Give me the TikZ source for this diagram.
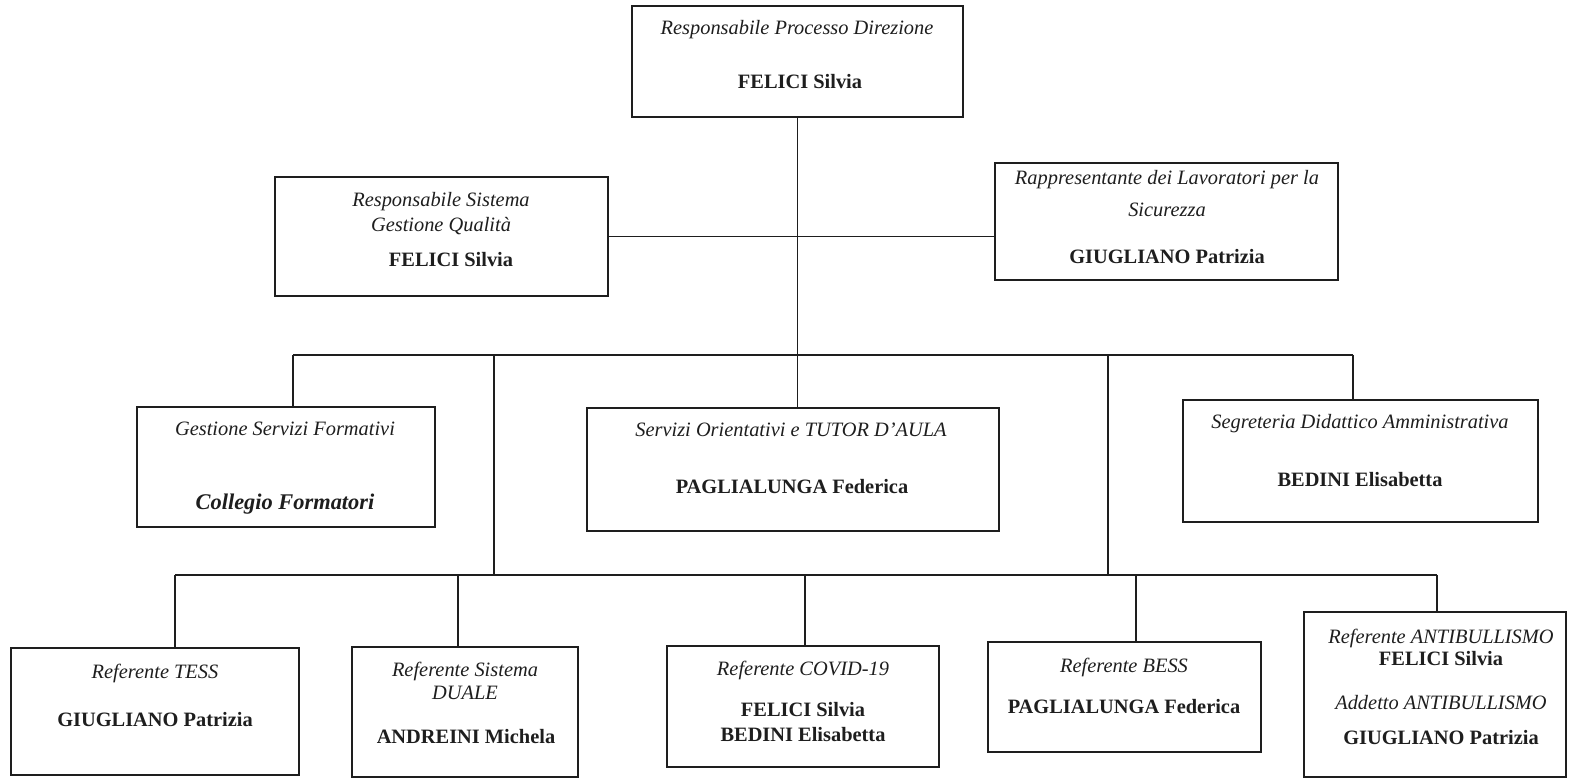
\documentclass[tikz,border=0pt]{standalone}
\usepackage{fontspec}
\setmainfont{Liberation Serif}
\definecolor{ink}{RGB}{30,30,30}
\tikzset{
  orgbox/.style={draw=ink, line width=1.4pt, rectangle, inner sep=0pt, outer sep=0pt},
  conn/.style={draw=ink, line width=0.7pt},
  lbl/.style={inner sep=0pt, text height=7pt, text depth=0pt, text=ink},
  rolet/.style={lbl, font=\fontsize{10.2}{12}\selectfont\itshape},
  person/.style={lbl, font=\fontsize{10.2}{12}\selectfont\bfseries},
  bigperson/.style={lbl, font=\fontsize{11.2}{13}\selectfont\bfseries\itshape},
}
\newcommand\orgbox[5]{\node[orgbox, minimum width={(#4-#2)*0.5pt}, minimum height={(#5-#3)*0.5pt}] (#1) at ({(#2+#4)/2},{(#3+#5)/2}) {};}
\begin{document}
\begin{tikzpicture}[x=0.5pt,y=-0.5pt]
\useasboundingbox (0,0) rectangle (1569,779);
\fill[white] (0,0) rectangle (1569,779);

% boxes
\orgbox{T}{632}{6}{963}{117}
\orgbox{Q}{275}{177}{608}{296}
\orgbox{R}{995}{163}{1338}{280}
\orgbox{G}{137}{407}{435}{527}
\orgbox{S}{587}{408}{999}{531}
\orgbox{D}{1183}{400}{1538}{522}
\orgbox{TE}{11}{648}{299}{775}
\orgbox{DU}{352}{647}{578}{777}
\orgbox{CO}{667}{646}{939}{767}
\orgbox{BE}{988}{642}{1261}{752}
\orgbox{AN}{1304}{612}{1566}{777}

% connectors
\draw[conn] (T.south) -- (T.south |- S.north);
\draw[conn] (Q.east) -- (Q.east -| R.west);
\coordinate (ul) at (293,355);
\coordinate (ur) at (1353,355);
\draw[conn] (ul) -- (ur);
\draw[conn] (ul) -- (ul |- G.north);
\draw[conn] (ur) -- (ur |- D.north);
\coordinate (ll) at (175,575);
\coordinate (lr) at (1437,575);
\draw[conn] (ll) -- (lr);
\coordinate (va) at (494,355);
\coordinate (vb) at (1108,355);
\draw[conn] (va) -- (va |- ll);
\draw[conn] (vb) -- (vb |- ll);
\draw[conn] (ll) -- (ll |- TE.north);
\coordinate (dd) at (458,575);
\draw[conn] (dd) -- (dd |- DU.north);
\coordinate (cd) at (805,575);
\draw[conn] (cd) -- (cd |- CO.north);
\coordinate (bd) at (1136,575);
\draw[conn] (bd) -- (bd |- BE.north);
\draw[conn] (lr) -- (lr |- AN.north);

% texts
\node[rolet] (T1) at (797,28) {Responsabile Processo Direzione};
\node[person] (T2) at (800,82) {FELICI Silvia};

\node[rolet] (Q1) at (441,200) {Responsabile Sistema};
\node[rolet] (Q2) at (441,225) {Gestione Qualità};
\node[person] (Q3) at (451,260) {FELICI Silvia};

\node[rolet] (R1) at (1167,178) {Rappresentante dei Lavoratori per la};
\node[rolet] (R2) at (1167,210) {Sicurezza};
\node[person] (R3) at (1167,257) {GIUGLIANO Patrizia};

\node[rolet] (G1) at (285,429) {Gestione Servizi Formativi};
\node[bigperson] (G2) at (285,503) {Collegio Formatori};

\node[rolet] (S1) at (791,430) {Servizi Orientativi e TUTOR D’AULA};
\node[person] (S2) at (792,487) {PAGLIALUNGA Federica};

\node[rolet] (D1) at (1360,422) {Segreteria Didattico Amministrativa};
\node[person] (D2) at (1360,480) {BEDINI Elisabetta};

\node[rolet] (TE1) at (155,672) {Referente TESS};
\node[person] (TE2) at (155,720) {GIUGLIANO Patrizia};

\node[rolet] (DU1) at (465,670) {Referente Sistema};
\node[rolet] (DU2) at (465,693) {DUALE};
\node[person] (DU3) at (466,737) {ANDREINI Michela};

\node[rolet] (CO1) at (803,669) {Referente COVID-19};
\node[person] (CO2) at (803,710) {FELICI Silvia};
\node[person] (CO3) at (803,735) {BEDINI Elisabetta};

\node[rolet] (BE1) at (1124,666) {Referente BESS};
\node[person] (BE2) at (1124,707) {PAGLIALUNGA Federica};

\node[rolet] (AN1) at (1441,637) {Referente ANTIBULLISMO};
\node[person] (AN2) at (1441,659) {FELICI Silvia};
\node[rolet] (AN3) at (1441,703) {Addetto ANTIBULLISMO};
\node[person] (AN4) at (1441,738) {GIUGLIANO Patrizia};
\end{tikzpicture}
\end{document}
